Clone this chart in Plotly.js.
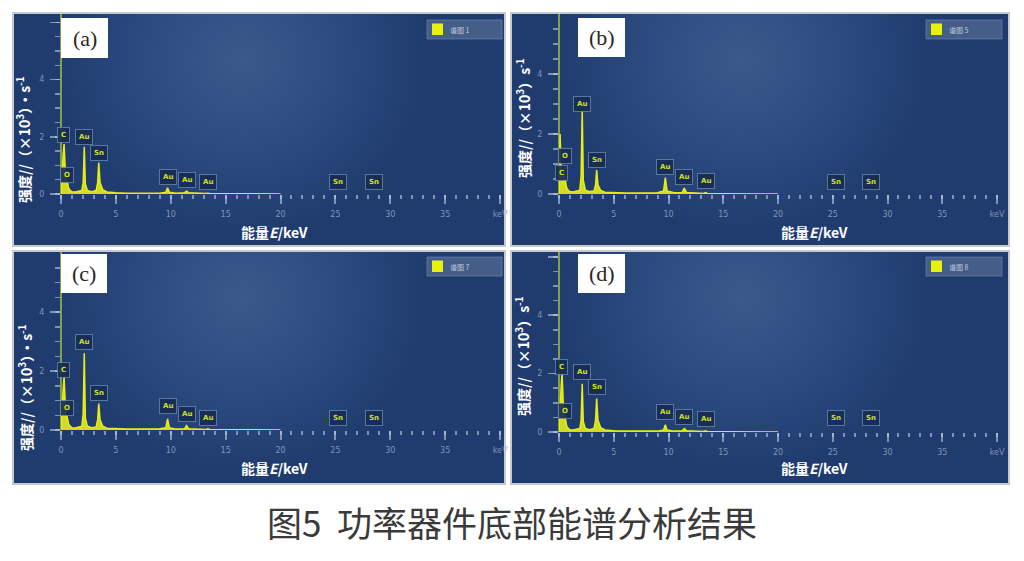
<!DOCTYPE html>
<html><head><meta charset="utf-8">
<script src="https://cdn.plot.ly/plotly-3.0.1.min.js"></script>
<style>html,body{margin:0;padding:0;background:#fff}#chart{width:1024px;height:561px}</style>
</head><body><div id="chart"></div>
<script>
// ---------- data ----------
const energy = [0, 0.1, 0.2, 0.28, 0.36, 0.44, 0.52, 0.6, 0.7, 0.85,
  1.0, 1.3, 1.6, 1.9, 2.02, 2.12, 2.22, 2.4, 2.8, 3.2,
  3.34, 3.44, 3.56, 3.8, 4.2, 5, 6, 7, 8, 9,
  9.55, 9.71, 9.87, 10.5, 11.25, 11.44, 11.65, 12.5, 13.2, 13.38,
  13.56, 15, 17, 20];
const countsA = [0,0.9,1.4,1.75,0.9,0.45,0.55,0.35,0.2,0.12,
  0.08,0.07,0.09,0.12,0.4,1.65,0.35,0.12,0.08,0.12,
  0.4,1.1,0.4,0.15,0.07,0.04,0.03,0.03,0.03,0.03,
  0.06,0.22,0.06,0.03,0.04,0.1,0.04,0.02,0.02,0.03,
  0.02,0.01,0.01,0];
const countsB = [0,2.0,0.8,0.45,0.35,0.5,0.9,0.4,0.2,0.12,
  0.08,0.07,0.09,0.13,0.6,2.8,0.45,0.13,0.08,0.1,
  0.3,0.8,0.3,0.12,0.06,0.04,0.03,0.03,0.03,0.04,
  0.1,0.55,0.1,0.04,0.05,0.2,0.05,0.02,0.02,0.05,
  0.02,0.01,0.01,0];
const countsC = [0,0.9,1.4,1.8,0.9,0.45,0.5,0.35,0.2,0.12,
  0.08,0.07,0.09,0.13,0.55,2.6,0.4,0.13,0.08,0.1,
  0.35,0.9,0.35,0.13,0.06,0.04,0.03,0.03,0.03,0.04,
  0.08,0.38,0.08,0.03,0.04,0.15,0.04,0.02,0.02,0.04,
  0.02,0.01,0.01,0];
const countsD = [0,1.0,1.6,2.0,1.0,0.5,0.6,0.4,0.2,0.12,
  0.08,0.07,0.09,0.12,0.4,1.65,0.35,0.12,0.08,0.12,
  0.4,1.15,0.4,0.15,0.07,0.04,0.03,0.03,0.03,0.03,
  0.07,0.25,0.07,0.03,0.04,0.12,0.04,0.02,0.02,0.04,
  0.02,0.01,0.01,0];

const peakElements = ['C','O','Au','Sn','Au','Au','Au','Sn','Sn'];
const peakEnergies = [0.25, 0.55, 2.12, 3.44, 9.71, 11.44, 13.38, 25.27, 28.49];
const labelHeightsA = [1.78, 0.38, 1.7, 1.15, 0.33, 0.2, 0.13, 0.13, 0.13];
const labelHeightsB = [0.43, 1.0, 2.73, 0.87, 0.63, 0.3, 0.17, 0.13, 0.13];
const labelHeightsC = [1.76, 0.47, 2.7, 1.0, 0.54, 0.27, 0.12, 0.14, 0.14];
const labelHeightsD = [1.95, 0.45, 1.78, 1.27, 0.41, 0.24, 0.17, 0.2, 0.2];

const panelLabels = ['(a)','(b)','(c)','(d)'];
const spectrumNames = ['谱图 1','谱图 5','谱图 7','谱图 8'];
const xTickVals = [0,5,10,15,20,25,30,35,40];
const xTickText = ['0','5','10','15','20','25','30','35','keV'];
const yTickVals = [0,2,4,6];
const yTickText = ['0','2','4',''];
const yTitleAC = '强度//（×10<sup>3</sup>）·s<sup>-1</sup>';
const yTitleBD = '强度//（×10<sup>3</sup>）s<sup>-1</sup>';
const xTitle = '能量<i>E</i>/keV';
const caption = '图5  功率器件底部能谱分析结果';

const seriesCounts = [countsA, countsB, countsC, countsD];
const seriesLabelHeights = [labelHeightsA, labelHeightsB, labelHeightsC, labelHeightsD];
const yTitles = [yTitleAC, yTitleBD, yTitleAC, yTitleBD];

// ---------- geometry (pixels) ----------
const W = 1024, H = 561;
const geo = [
  {frame:[13,13,505,246], x0:61, x1:500, base:194, unit:28.6, ymax:6, yt:[24,140], xt:[274,232], box:[61,18,108,58], leg:[427,20,502,39]},
  {frame:[511,13,1009,246], x0:559, x1:997, base:194, unit:30, ymax:5.5, yt:[523,118], xt:[814,232], box:[578,18,625,57], leg:[926,20,1002,39]},
  {frame:[13,251,505,484], x0:61, x1:500, base:430, unit:29.5, ymax:5.5, yt:[25,388], xt:[274,468], box:[61,254,107,293], leg:[427,257,502,276]},
  {frame:[511,251,1009,484], x0:559, x1:997, base:432, unit:29.2, ymax:6, yt:[523,356], xt:[814,468], box:[578,254,625,293], leg:[926,257,1002,276]}
];
const px = v => v / W, py = v => 1 - v / H;

const bgSvg = "<svg xmlns='http://www.w3.org/2000/svg' width='500' height='240' viewBox='0 0 500 240' preserveAspectRatio='none'>" +
  "<defs><radialGradient id='g' cx='0.62' cy='0.2' r='0.75' gradientTransform='translate(0.31 0.1) scale(0.5 1) translate(-0.31 -0.1)'>" +
  "<stop offset='0' stop-color='#3a5a8c'/><stop offset='0.55' stop-color='#2b4a7e'/><stop offset='1' stop-color='#203c6f'/></radialGradient></defs>" +
  "<rect width='500' height='240' fill='url(#g)'/></svg>";
const bgSrc = 'data:image/svg+xml;charset=utf-8,' + encodeURIComponent(bgSvg);

const tickCol = 'rgba(190,205,228,0.6)';
const tickFont = {family:'DejaVu Sans, sans-serif', size:8, color:'rgba(140,160,195,0.9)'};
const yellow = '#e6ee18';

const data = [], shapes = [], annotations = [], images = [];
const layout = {
  width: W, height: H, margin:{l:0,r:0,t:0,b:0},
  paper_bgcolor:'#ffffff', plot_bgcolor:'rgba(0,0,0,0)', showlegend:false
};

geo.forEach((g, i) => {
  const n = i + 1;
  const xa = 'xaxis' + (n === 1 ? '' : n), ya = 'yaxis' + (n === 1 ? '' : n);
  const xr = 'x' + (n === 1 ? '' : n), yr = 'y' + (n === 1 ? '' : n);
  const top = g.base - g.ymax * g.unit;
  layout[xa] = {
    domain:[px(g.x0), px(g.x1)], anchor: yr, range:[0,40],
    tickmode:'array', tickvals:xTickVals, ticktext:xTickText,
    ticks:'outside', ticklen:9, tickwidth:2, tickcolor:tickCol,
    minor:{dtick:1, ticks:'outside', ticklen:4, tickwidth:2, tickcolor:tickCol},
    showgrid:false, zeroline:false, showline:false, tickfont:tickFont, ticklabelstandoff:3, fixedrange:true
  };
  layout[ya] = {
    domain:[py(g.base), py(top)], anchor: xr, range:[0,g.ymax],
    tickmode:'array', tickvals:yTickVals.filter(v => v <= g.ymax), ticktext:yTickText,
    ticks:'outside', ticklen:10, tickwidth:1.5, tickcolor:tickCol,
    minor:{dtick:0.5, ticks:'outside', ticklen:5, tickwidth:1.5, tickcolor:tickCol},
    showgrid:false, zeroline:false, showline:false,
    tickfont:tickFont, ticklabelstandoff:4, fixedrange:true
  };
  images.push({source:bgSrc, xref:'paper', yref:'paper', x:px(g.frame[0]), y:py(g.frame[1]),
    sizex:px(g.frame[2]-g.frame[0]), sizey:(g.frame[3]-g.frame[1])/H, xanchor:'left', yanchor:'top',
    sizing:'stretch', layer:'below'});
  // y axis line running up to the frame top
  shapes.push({type:'line', xref:'paper', yref:'paper', x0:px(g.x0), x1:px(g.x0),
    y0:py(g.base), y1:py(g.frame[1]+1), line:{color:'#a6c23c', width:1.5}, layer:'below'});
  data.push({
    type:'scatter', mode:'lines', x:energy, y:seriesCounts[i], xaxis:xr, yaxis:yr,
    name:spectrumNames[i], fill:'tozeroy', fillcolor:'rgba(228,236,24,0.9)',
    line:{color:yellow, width:1.5, shape:'linear'}, hoverinfo:'skip'
  });
  // frame
  shapes.push({type:'rect', xref:'paper', yref:'paper', x0:px(g.frame[0]), x1:px(g.frame[2]),
    y0:py(g.frame[1]), y1:py(g.frame[3]), line:{color:'#c4c9d2', width:2}, fillcolor:'rgba(0,0,0,0)'});
  // panel label box
  shapes.push({type:'rect', xref:'paper', yref:'paper', x0:px(g.box[0]), x1:px(g.box[2]),
    y0:py(g.box[1]), y1:py(g.box[3]), line:{width:0}, fillcolor:'#ffffff'});
  annotations.push({xref:'paper', yref:'paper', x:px((g.box[0]+g.box[2])/2), y:py((g.box[1]+g.box[3])/2),
    text:panelLabels[i], showarrow:false, xanchor:'center', yanchor:'middle',
    font:{family:'Liberation Serif, serif', size:22, color:'#2e241c'}});
  // legend box
  shapes.push({type:'rect', xref:'paper', yref:'paper', x0:px(g.leg[0]), x1:px(g.leg[2]),
    y0:py(g.leg[1]), y1:py(g.leg[3]), line:{color:'rgba(120,145,185,0.55)', width:1}, fillcolor:'rgba(78,102,142,0.8)'});
  shapes.push({type:'rect', xref:'paper', yref:'paper', x0:px(g.leg[0]+5), x1:px(g.leg[0]+16),
    y0:py(g.leg[1]+3.5), y1:py(g.leg[1]+15), line:{width:0}, fillcolor:'#e8f010'});
  annotations.push({xref:'paper', yref:'paper', x:px(g.leg[0]+21), y:py((g.leg[1]+g.leg[3])/2),
    text:spectrumNames[i], showarrow:false, xanchor:'left', yanchor:'middle',
    font:{family:'Noto Sans CJK SC, sans-serif', size:7, color:'rgba(215,222,235,0.85)'}});
  // axis titles
  annotations.push({xref:'paper', yref:'paper', x:px(g.yt[0]), y:py(g.yt[1]), text:yTitles[i],
    textangle:-90, showarrow:false, xanchor:'center', yanchor:'middle',
    font:{family:'Noto Sans CJK SC, sans-serif', size:14, color:'#ffffff', weight:'bold'}});
  annotations.push({xref:'paper', yref:'paper', x:px(g.xt[0]), y:py(g.xt[1]), text:xTitle,
    showarrow:false, xanchor:'center', yanchor:'middle',
    font:{family:'Noto Sans CJK SC, sans-serif', size:14, color:'#ffffff', weight:'bold'}});
  // peak labels
  peakElements.forEach((el, k) => {
    annotations.push({xref:xr, yref:yr, x:peakEnergies[k], y:seriesLabelHeights[i][k], text:'<b>'+el+'</b>',
      showarrow:false, xanchor:'center', yanchor:'bottom', yshift:0,
      font:{family:'DejaVu Sans, sans-serif', size:7, color:'#cfe21e'},
      bgcolor:'rgba(24,44,84,0.92)', bordercolor:'rgba(110,140,180,0.75)', borderwidth:1, borderpad:3});
  });
});

annotations.push({xref:'paper', yref:'paper', x:0.5, y:py(521), text:caption, showarrow:false,
  xanchor:'center', yanchor:'middle', font:{family:'Noto Sans CJK SC, sans-serif', size:35, color:'#3a3a3a'}});

layout.shapes = shapes; layout.annotations = annotations; layout.images = images;
Plotly.newPlot('chart', data, layout, {staticPlot:true, displayModeBar:false});
</script></body></html>
